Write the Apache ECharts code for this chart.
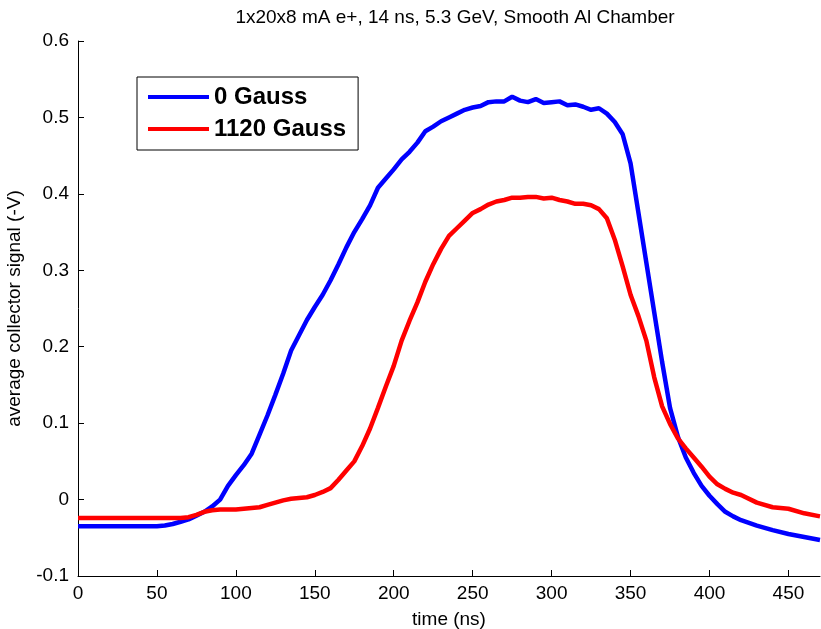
<!DOCTYPE html>
<html><head><meta charset="utf-8">
<script src="https://cdn.jsdelivr.net/npm/echarts@6/dist/echarts.min.js"></script>
<style>html,body{margin:0;padding:0;background:#fff}#c{width:821px;height:629px}</style>
</head><body><div id="c"></div>
<script>
var times = [0,10,20,30,40,50,55,60,65,70,75,80,85,90,95,100,105,110,115,120,125,130,135,140,145,150,155,160,165,170,175,180,185,190,195,200,205,210,215,220,225,230,235,240,245,250,255,260,265,270,275,280,285,290,295,300,305,310,315,320,325,330,335,340,345,350,355,360,365,370,375,380,385,390,395,400,405,410,415,420,430,440,450,460,470];
var gauss0 = [-0.035,-0.035,-0.035,-0.035,-0.035,-0.035,-0.034,-0.032,-0.029,-0.026,-0.021,-0.016,-0.009,0.000,0.018,0.032,0.045,0.060,0.085,0.110,0.137,0.165,0.195,0.215,0.235,0.252,0.268,0.287,0.308,0.330,0.350,0.367,0.385,0.408,0.420,0.432,0.445,0.455,0.467,0.482,0.488,0.495,0.500,0.505,0.510,0.513,0.515,0.520,0.521,0.521,0.527,0.522,0.520,0.524,0.519,0.520,0.521,0.516,0.517,0.514,0.510,0.512,0.505,0.494,0.478,0.440,0.375,0.310,0.245,0.180,0.120,0.082,0.055,0.035,0.018,0.005,-0.006,-0.016,-0.022,-0.027,-0.034,-0.040,-0.045,-0.049,-0.053];
var gauss1120 = [-0.024,-0.024,-0.024,-0.024,-0.024,-0.024,-0.024,-0.024,-0.024,-0.023,-0.020,-0.016,-0.014,-0.013,-0.013,-0.013,-0.012,-0.011,-0.010,-0.007,-0.004,-0.001,0.001,0.002,0.003,0.006,0.010,0.015,0.026,0.038,0.050,0.070,0.093,0.120,0.148,0.175,0.208,0.234,0.258,0.285,0.308,0.328,0.345,0.355,0.365,0.375,0.380,0.386,0.390,0.392,0.395,0.395,0.396,0.396,0.394,0.395,0.392,0.390,0.387,0.387,0.385,0.380,0.368,0.340,0.305,0.268,0.240,0.208,0.160,0.122,0.099,0.080,0.067,0.055,0.043,0.030,0.020,0.014,0.009,0.006,-0.004,-0.010,-0.012,-0.018,-0.022];
var seriesNames = ['0 Gauss','1120 Gauss'];
var xTicks = [0,50,100,150,200,250,300,350,400,450];
var yTicks = [-0.1,0,0.1,0.2,0.3,0.4,0.5,0.6];

function pairs(ys){ return times.map(function(t,i){return [t, ys[i]];}); }
var font = 'Arial, "Liberation Sans", sans-serif';
var chart = echarts.init(document.getElementById('c'), null, {renderer:'canvas'});
chart.setOption({
  animation:false,
  title:{text:'1x20x8 mA e+, 14 ns, 5.3 GeV, Smooth Al Chamber', left:450, top:3, textAlign:'center',
    textStyle:{fontFamily:font, fontSize:19, fontWeight:'normal', color:'#000'}},
  grid:{left:78, right:1, top:41, bottom:53, containLabel:false, outerBoundsMode:'none'},
  legend:{orient:'vertical', left:137, top:77, padding:[5,12,6,11], itemGap:2,
    borderColor:'#000', borderWidth:1, backgroundColor:'#fff',
    itemWidth:61, itemHeight:4, icon:'rect',
    data:seriesNames,
    textStyle:{fontFamily:font, fontSize:24, fontWeight:'bold', color:'#000', lineHeight:30}},
  xAxis:{type:'value', min:0, max:470, interval:50, name:'time (ns)', nameLocation:'middle', nameGap:34,
    nameTextStyle:{fontFamily:font, fontSize:19, color:'#000'},
    axisLine:{onZero:false, lineStyle:{color:'#000', width:1}},
    axisTick:{inside:true, length:6, lineStyle:{color:'#000'}},
    axisLabel:{fontFamily:font, fontSize:19, color:'#000', margin:8, showMaxLabel:false,
      formatter:function(v){return xTicks.indexOf(v)>=0 ? String(v) : '';}},
    splitLine:{show:false}},
  yAxis:{type:'value', min:-0.1, max:0.6, interval:0.1, name:'average collector signal (-V)', nameLocation:'middle', nameGap:54,
    nameTextStyle:{fontFamily:font, fontSize:19, color:'#000'},
    axisLine:{show:true, onZero:false, lineStyle:{color:'#000', width:1}},
    axisTick:{inside:true, length:6, lineStyle:{color:'#000'}},
    axisLabel:{fontFamily:font, fontSize:19, color:'#000', margin:9,
      formatter:function(v){var r=Math.round(v*10)/10; return r===0?'0':String(r);}},
    splitLine:{show:false}},
  series:[
    {name:seriesNames[0], type:'line', data:pairs(gauss0), showSymbol:false, symbol:'none', smooth:false,
      lineStyle:{color:'#0000ff', width:4.5}, itemStyle:{color:'#0000ff'}},
    {name:seriesNames[1], type:'line', data:pairs(gauss1120), showSymbol:false, symbol:'none', smooth:false,
      lineStyle:{color:'#ff0000', width:4.5}, itemStyle:{color:'#ff0000'}}
  ]
});
</script></body></html>
